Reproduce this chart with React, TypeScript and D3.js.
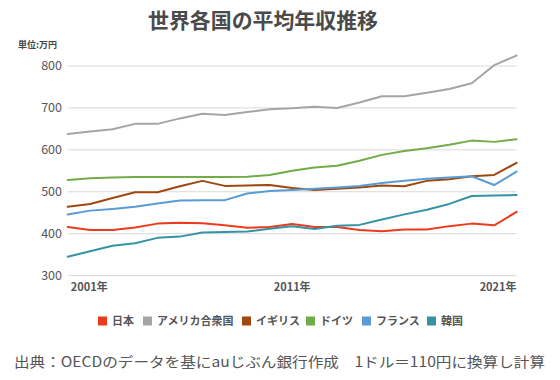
import React from "react";
import * as d3 from "d3";

const years = d3.range(2001, 2022);
const japan = [416, 409, 409, 415, 424, 426, 425, 420, 414, 416, 423, 416, 416, 409, 406, 410, 410, 418, 424, 420, 452];
const usa = [638, 644, 649, 662, 662, 675, 686, 683, 690, 697, 699, 703, 700, 713, 728, 728, 736, 745, 759, 802, 825];
const uk = [464, 471, 485, 499, 499, 513, 526, 514, 515, 516, 509, 504, 507, 510, 515, 513, 526, 530, 537, 540, 569];
const germany = [528, 532, 534, 535, 535, 535, 535, 535, 536, 540, 550, 558, 562, 574, 588, 597, 604, 612, 622, 619, 625];
const france = [446, 455, 459, 464, 472, 479, 480, 480, 496, 502, 504, 507, 510, 514, 521, 526, 531, 534, 537, 516, 548];
const korea = [345, 358, 371, 377, 390, 393, 403, 404, 405, 412, 418, 411, 419, 421, 434, 446, 457, 471, 490, 491, 492];

const seriesNames = ["日本", "アメリカ合衆国", "イギリス", "ドイツ", "フランス", "韓国"];
const seriesColors = ["#ee3a1c", "#a5a5a5", "#9e480e", "#70ad47", "#5b9bd5", "#3494a6"];
const seriesValues = [japan, usa, uk, germany, france, korea];
const yTicks = [300, 400, 500, 600, 700, 800];
const xLabels = [
  { year: 2001, label: "2001年", anchor: "start" },
  { year: 2011, label: "2011年", anchor: "middle" },
  { year: 2021, label: "2021年", anchor: "end" },
];
const legendX = [98, 143, 242, 306, 362, 427];

const font = "'Noto Sans CJK JP', 'Noto Sans', sans-serif";

export default function App() {
  const W = 560, H = 380;
  const x = d3.scaleLinear().domain([2001, 2021]).range([67.7, 516.6]);
  const y = d3.scaleLinear().domain([300, 800]).range([275.6, 66]);
  const line = d3.line<number>().x((_, i) => x(years[i])).y((d) => y(d));

  return (
    <svg width={W} height={H} style={{ position: "absolute", left: 0, top: 0, background: "#fff" }} fontFamily={font}>
      <text x={263} y={28} textAnchor="middle" fontSize={21} fontWeight="bold" fill="#4a4a4a" textLength={230} lengthAdjust="spacingAndGlyphs">世界各国の平均年収推移</text>
      <text x={18} y={48} fontSize={9} fontWeight="bold" fill="#444">単位:万円</text>
      {yTicks.map((t) => (
        <g key={t}>
          <line x1={67.7} x2={516.6} y1={y(t)} y2={y(t)} stroke="#d9d9d9" strokeWidth={1} />
          <text x={62} y={y(t)} dy="0.35em" textAnchor="end" fontSize={12.5} fill="#555">{t}</text>
        </g>
      ))}
      {xLabels.map((l) => (
        <text key={l.year} x={l.anchor === "start" ? x(l.year) + 3 : x(l.year)} y={291} textAnchor={l.anchor as any} fontSize={11} fontWeight="bold" fill="#555">{l.label}</text>
      ))}
      {seriesValues.map((vals, i) => (
        <path key={i} d={line(vals) || ""} fill="none" stroke={seriesColors[i]} strokeWidth={2} strokeLinejoin="round" strokeLinecap="round" />
      ))}
      {seriesNames.map((n, i) => (
        <g key={n}>
          <rect x={legendX[i]} y={316.5} width={9} height={9} fill={seriesColors[i]} />
          <text x={legendX[i] + 14} y={321} dy="0.35em" fontSize={11} fontWeight="bold" fill="#555">{n}</text>
        </g>
      ))}
      <text x={14} y={367} fontSize={14} fill="#555" textLength={531} lengthAdjust="spacingAndGlyphs">出典：OECDのデータを基にauじぶん銀行作成　1ドル＝110円に換算し計算</text>
    </svg>
  );
}
